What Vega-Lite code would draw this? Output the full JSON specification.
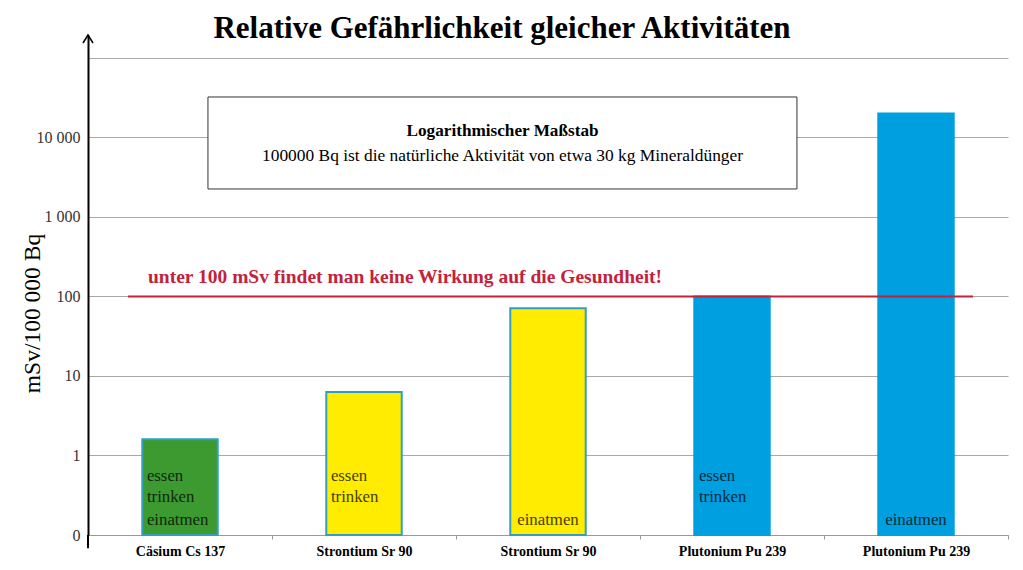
{
  "$schema": "https://vega.github.io/schema/vega-lite/v6.json",
  "width": 920,
  "height": 500,
  "autosize": {"type": "none"},
  "padding": {"left": 88, "top": 35, "right": 15, "bottom": 35},
  "background": "white",
  "config": {"font": "Liberation Serif", "view": {"stroke": null}},
  "title": {
    "text": "Relative Gefährlichkeit gleicher Aktivitäten",
    "fontSize": 31,
    "fontWeight": "bold",
    "color": "black",
    "anchor": "middle",
    "frame": "group",
    "dx": -46,
    "offset": -37,
    "baseline": "alphabetic"
  },
  "datasets": {
    "bars": [
      {"bar": "Cäsium Cs 137", "nuclide": "Cs", "value": 1.6},
      {"bar": "Strontium Sr 90|a", "nuclide": "Sr", "value": 6.3},
      {"bar": "Strontium Sr 90|b", "nuclide": "Sr", "value": 71},
      {"bar": "Plutonium Pu 239|a", "nuclide": "Pu", "value": 100},
      {"bar": "Plutonium Pu 239|b", "nuclide": "Pu", "value": 20000}
    ],
    "words": [
      {"bar": "Cäsium Cs 137", "word": "essen"},
      {"bar": "Cäsium Cs 137", "word": "trinken"},
      {"bar": "Cäsium Cs 137", "word": "einatmen"},
      {"bar": "Strontium Sr 90|a", "word": "essen"},
      {"bar": "Strontium Sr 90|a", "word": "trinken"},
      {"bar": "Strontium Sr 90|b", "word": "einatmen"},
      {"bar": "Plutonium Pu 239|a", "word": "essen"},
      {"bar": "Plutonium Pu 239|a", "word": "trinken"},
      {"bar": "Plutonium Pu 239|b", "word": "einatmen"}
    ]
  },
  "layer": [
    {
      "data": {"name": "bars"},
      "mark": {"type": "bar", "width": {"band": 0.41}, "strokeWidth": 2},
      "encoding": {
        "x": {
          "field": "bar",
          "type": "nominal",
          "sort": null,
          "scale": {
            "domain": ["Cäsium Cs 137", "Strontium Sr 90|a", "Strontium Sr 90|b", "Plutonium Pu 239|a", "Plutonium Pu 239|b"],
            "paddingInner": 0,
            "paddingOuter": 0
          },
          "axis": {
            "title": null,
            "labelAngle": 0,
            "labelFontWeight": "bold",
            "labelFontSize": 14,
            "labelColor": "black",
            "labelExpr": "split(datum.label, '|')[0]",
            "tickBand": "extent",
            "tickColor": "#999999",
            "tickSize": 4,
            "domainColor": "#999999",
            "labelPadding": 5,
            "grid": false
          }
        },
        "y": {
          "field": "value",
          "type": "quantitative",
          "scale": {"type": "log", "domain": [0.1, 194500], "nice": false},
          "axis": {
            "title": "mSv/100 000 Bq",
            "titleFontSize": 23.5,
            "titleFontWeight": "normal",
            "titleColor": "black",
            "titleAngle": -90,
            "titleX": -56,
            "titleY": 278,
            "titleAlign": "center",
            "titleBaseline": "middle",
            "values": [0.1, 1, 10, 100, 1000, 10000, 100000],
            "labelExpr": "datum.value >= 100000 ? '' : datum.value < 0.5 ? '0' : datum.value == 10000 ? '10 000' : datum.value == 1000 ? '1 000' : format(datum.value, 'd')",
            "labelFontSize": 16,
            "labelColor": "#333333",
            "labelPadding": 8,
            "ticks": false,
            "domainColor": "black",
            "domainWidth": 2,
            "gridColor": "#a8a8a8",
            "gridWidth": 1
          }
        },
        "y2": {"datum": 0.1},
        "fill": {
          "field": "nuclide",
          "type": "nominal",
          "scale": {"domain": ["Cs", "Sr", "Pu"], "range": ["#3c9a31", "#ffec00", "#009fe0"]},
          "legend": null
        },
        "stroke": {
          "field": "nuclide",
          "type": "nominal",
          "scale": {"domain": ["Cs", "Sr", "Pu"], "range": ["#2fa0c2", "#2fa0c2", "#009fe0"]},
          "legend": null
        }
      }
    },
    {
      "data": {"values": [{"limit": 100}]},
      "mark": {"type": "rule", "color": "#c4213a", "strokeWidth": 2},
      "encoding": {
        "x": {"datum": "Cäsium Cs 137", "type": "nominal", "bandPosition": 0.217},
        "x2": {"datum": "Plutonium Pu 239|b", "bandPosition": 0.81},
        "y": {"field": "limit", "type": "quantitative"}
      }
    },
    {
      "data": {"values": [{"axisline": 1}]},
      "mark": {"type": "rule", "color": "black", "strokeWidth": 2},
      "encoding": {
        "x": {"datum": "Cäsium Cs 137", "type": "nominal", "bandPosition": 0},
        "y": {"datum": 0.1, "type": "quantitative"},
        "y2": {"datum": 0.068}
      }
    },
    {
      "data": {"values": [{"note": "unter 100 mSv findet man keine Wirkung auf die Gesundheit!"}]},
      "mark": {"type": "text", "align": "left", "baseline": "alphabetic", "fontSize": 19.5, "fontWeight": "bold", "color": "#c4213a"},
      "encoding": {
        "x": {"datum": "Cäsium Cs 137", "type": "nominal", "bandPosition": 0.326},
        "y": {"datum": 148, "type": "quantitative"},
        "text": {"field": "note"}
      }
    },
    {
      "data": {"values": [{"box": 1}]},
      "mark": {"type": "rect", "fill": "white", "stroke": "#333333", "strokeWidth": 1},
      "encoding": {
        "x": {"datum": "Cäsium Cs 137", "type": "nominal", "bandPosition": 0.652},
        "x2": {"datum": "Plutonium Pu 239|a", "bandPosition": 0.853},
        "y": {"datum": 32300, "type": "quantitative"},
        "y2": {"datum": 2250}
      }
    },
    {
      "data": {"values": [{"line": "Logarithmischer Maßstab"}]},
      "mark": {"type": "text", "align": "center", "baseline": "middle", "fontSize": 17.2, "fontWeight": "bold", "color": "black"},
      "encoding": {
        "x": {"datum": "Strontium Sr 90|b", "type": "nominal", "bandPosition": 0.253},
        "y": {"datum": 12080, "type": "quantitative"},
        "text": {"field": "line"}
      }
    },
    {
      "data": {"values": [{"line": "100000 Bq ist die natürliche Aktivität von etwa 30 kg Mineraldünger"}]},
      "mark": {"type": "text", "align": "center", "baseline": "middle", "fontSize": 17.4, "color": "black"},
      "encoding": {
        "x": {"datum": "Strontium Sr 90|b", "type": "nominal", "bandPosition": 0.253},
        "y": {"datum": 5850, "type": "quantitative"},
        "text": {"field": "line"}
      }
    },
    {
      "data": {"name": "words"},
      "transform": [{"filter": "datum.word == 'essen'"}],
      "mark": {"type": "text", "align": "left", "baseline": "middle", "fontSize": 16.8, "color": "black", "opacity": 0.75},
      "encoding": {
        "x": {"field": "bar", "type": "nominal", "bandPosition": 0.32},
        "y": {"datum": 0.552, "type": "quantitative"},
        "text": {"field": "word"}
      }
    },
    {
      "data": {"name": "words"},
      "transform": [{"filter": "datum.word == 'trinken'"}],
      "mark": {"type": "text", "align": "left", "baseline": "middle", "fontSize": 16.8, "color": "black", "opacity": 0.75},
      "encoding": {
        "x": {"field": "bar", "type": "nominal", "bandPosition": 0.32},
        "y": {"datum": 0.3, "type": "quantitative"},
        "text": {"field": "word"}
      }
    },
    {
      "data": {"name": "words"},
      "transform": [{"filter": "datum.word == 'einatmen' && indexof(datum.bar, '|b') < 0"}],
      "mark": {"type": "text", "align": "left", "baseline": "middle", "fontSize": 16.8, "color": "black", "opacity": 0.75},
      "encoding": {
        "x": {"field": "bar", "type": "nominal", "bandPosition": 0.32},
        "y": {"datum": 0.1545, "type": "quantitative"},
        "text": {"field": "word"}
      }
    },
    {
      "data": {"name": "words"},
      "transform": [{"filter": "datum.word == 'einatmen' && indexof(datum.bar, '|b') >= 0"}],
      "mark": {"type": "text", "align": "center", "baseline": "middle", "fontSize": 16.8, "color": "black", "opacity": 0.75},
      "encoding": {
        "x": {"field": "bar", "type": "nominal", "bandPosition": 0.5},
        "y": {"datum": 0.1545, "type": "quantitative"},
        "text": {"field": "word"}
      }
    },
    {
      "data": {"values": [{"arrow": 1}]},
      "mark": {"type": "point", "shape": "M-1,1.6L0,0L1,1.6", "size": 100, "filled": false, "stroke": "black", "strokeWidth": 1.5, "opacity": 1},
      "encoding": {
        "x": {"datum": "Cäsium Cs 137", "type": "nominal", "bandPosition": 0},
        "y": {"datum": 194500, "type": "quantitative"}
      }
    }
  ]
}
